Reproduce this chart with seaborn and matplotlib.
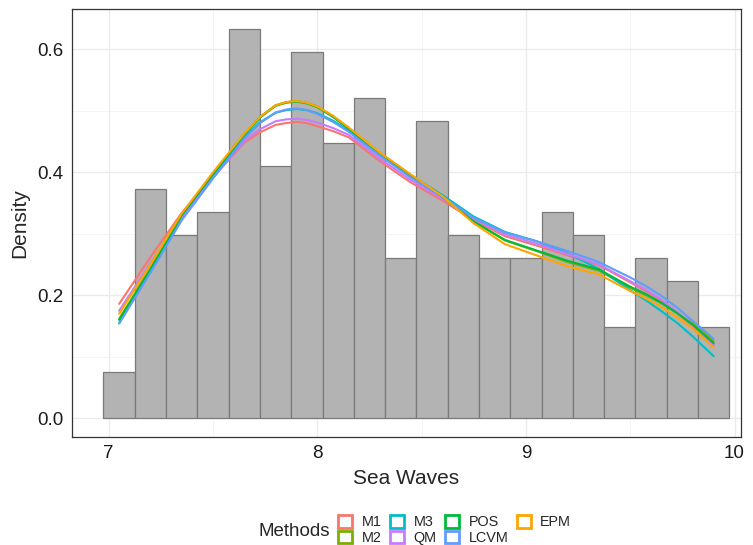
import numpy as np
import pandas as pd
import seaborn as sns
import matplotlib.pyplot as plt
from matplotlib.patches import Patch
from matplotlib.ticker import MultipleLocator

# histogram: bin counts (20 bins of width 0.15 starting at 6.975)
bin_start = 6.975
bin_width = 0.15
counts = [2, 10, 8, 9, 17, 11, 16, 12, 14, 7, 13, 8, 7, 7, 9, 8, 4, 7, 6, 4]

# fitted density curves per method
x_grid = [7.05, 7.2, 7.35, 7.5, 7.65, 7.725, 7.8, 7.85, 7.9, 7.95, 8.0, 8.075,
          8.15, 8.3, 8.45, 8.6, 8.75, 8.9, 9.05, 9.2, 9.35, 9.5, 9.575, 9.65,
          9.725, 9.8, 9.85, 9.9]
m1 = [0.186, 0.262, 0.334, 0.392, 0.448, 0.465, 0.477, 0.480, 0.482, 0.480, 0.475, 0.467,
      0.457, 0.418, 0.383, 0.354, 0.322, 0.296, 0.281, 0.265, 0.249, 0.221, 0.207, 0.191,
      0.171, 0.150, 0.134, 0.118]
m2 = [0.162, 0.243, 0.330, 0.398, 0.462, 0.490, 0.509, 0.514, 0.516, 0.513, 0.507, 0.491,
      0.472, 0.431, 0.395, 0.361, 0.320, 0.289, 0.272, 0.254, 0.240, 0.212, 0.200, 0.187,
      0.171, 0.154, 0.140, 0.125]
m3 = [0.155, 0.238, 0.326, 0.394, 0.457, 0.481, 0.497, 0.501, 0.503, 0.501, 0.496, 0.484,
      0.468, 0.430, 0.395, 0.363, 0.328, 0.303, 0.288, 0.268, 0.243, 0.208, 0.192, 0.174,
      0.155, 0.133, 0.117, 0.101]
qm = [0.175, 0.252, 0.327, 0.391, 0.451, 0.470, 0.483, 0.486, 0.487, 0.485, 0.481, 0.472,
      0.461, 0.422, 0.387, 0.357, 0.324, 0.299, 0.284, 0.267, 0.250, 0.223, 0.209, 0.193,
      0.173, 0.151, 0.136, 0.120]
pos = [0.160, 0.242, 0.330, 0.397, 0.461, 0.489, 0.508, 0.513, 0.515, 0.512, 0.506, 0.490,
       0.471, 0.430, 0.394, 0.360, 0.320, 0.290, 0.273, 0.256, 0.242, 0.214, 0.202, 0.188,
       0.171, 0.152, 0.137, 0.122]
lcvm = [0.154, 0.237, 0.322, 0.390, 0.455, 0.480, 0.497, 0.502, 0.504, 0.501, 0.495, 0.482,
        0.466, 0.427, 0.391, 0.360, 0.326, 0.302, 0.288, 0.272, 0.254, 0.229, 0.215, 0.199,
        0.180, 0.158, 0.144, 0.129]
epm = [0.170, 0.250, 0.333, 0.400, 0.463, 0.490, 0.509, 0.514, 0.516, 0.513, 0.507, 0.492,
       0.473, 0.432, 0.396, 0.361, 0.317, 0.283, 0.265, 0.247, 0.234, 0.207, 0.195, 0.181,
       0.164, 0.146, 0.131, 0.115]

methods = ["M1", "M2", "M3", "QM", "POS", "LCVM", "EPM"]
colors = ["#F8766D", "#7CAE00", "#00BFC4", "#C77CFF", "#00BA38", "#619CFF", "#FFA500"]
curves = [m1, m2, m3, qm, pos, lcvm, epm]

edges = bin_start + bin_width * np.arange(len(counts) + 1)
centers = edges[:-1] + bin_width / 2
sea_waves = np.repeat(centers, counts)

dens = pd.DataFrame({
    "x": np.tile(x_grid, len(methods)),
    "density": np.concatenate(curves),
    "Method": np.repeat(methods, len(x_grid)),
})

sns.set_style("white")
plt.rcParams['font.family'] = ['Liberation Sans', 'DejaVu Sans']

fig = plt.figure(figsize=(7.53, 5.45), dpi=100)
ax = fig.add_axes([72 / 753, 1 - 437 / 545, 669 / 753, 428 / 545])

sns.histplot(x=sea_waves, bins=edges, stat="density", color="#B3B3B3",
             edgecolor="#7A7A7A", linewidth=0.9, alpha=1, ax=ax, zorder=2)
sns.lineplot(data=dens, x="x", y="density", hue="Method", hue_order=methods,
             palette=dict(zip(methods, colors)), linewidth=1.5, legend=False,
             ax=ax, zorder=3)

ax.set_xlim(6.824, 10.031)
ax.set_ylim(-0.0304, 0.6655)
ax.xaxis.set_major_locator(MultipleLocator(1))
ax.xaxis.set_minor_locator(MultipleLocator(0.5))
ax.yaxis.set_major_locator(MultipleLocator(0.2))
ax.yaxis.set_minor_locator(MultipleLocator(0.1))
ax.yaxis.set_major_formatter(lambda v, p: f"{v:.1f}")
ax.grid(which="major", color="#EBEBEB", linewidth=1.0, zorder=0)
ax.grid(which="minor", color="#F2F2F2", linewidth=0.6, zorder=0)
ax.set_axisbelow(True)
for s in ax.spines.values():
    s.set_color("#333333")
    s.set_linewidth(0.9)
ax.tick_params(which="major", direction="out", length=3.0, width=0.8,
               color="#333333", labelsize=13.5, labelcolor="#1A1A1A", pad=3)
ax.tick_params(which="minor", length=0)
ax.set_xlabel("Sea Waves", fontsize=15, labelpad=5)
ax.set_ylabel("Density", fontsize=15, labelpad=6)

handles = [Patch(facecolor="white", edgecolor=c, linewidth=2, label=m)
           for m, c in zip(methods, colors)]
fig.text(259 / 753, 1 - 531 / 545, "Methods", fontsize=13.5, va="center", ha="left")
fig.legend(handles=handles, ncol=4, loc="center left",
           bbox_to_anchor=(338 / 753, 1 - 530 / 545), frameon=False,
           fontsize=10.4, handlelength=0.97, handleheight=0.97, handletextpad=0.65,
           columnspacing=0.6, labelspacing=0.1, borderpad=0, borderaxespad=0)

fig.savefig("out.png", dpi=100)
plt.close(fig)
